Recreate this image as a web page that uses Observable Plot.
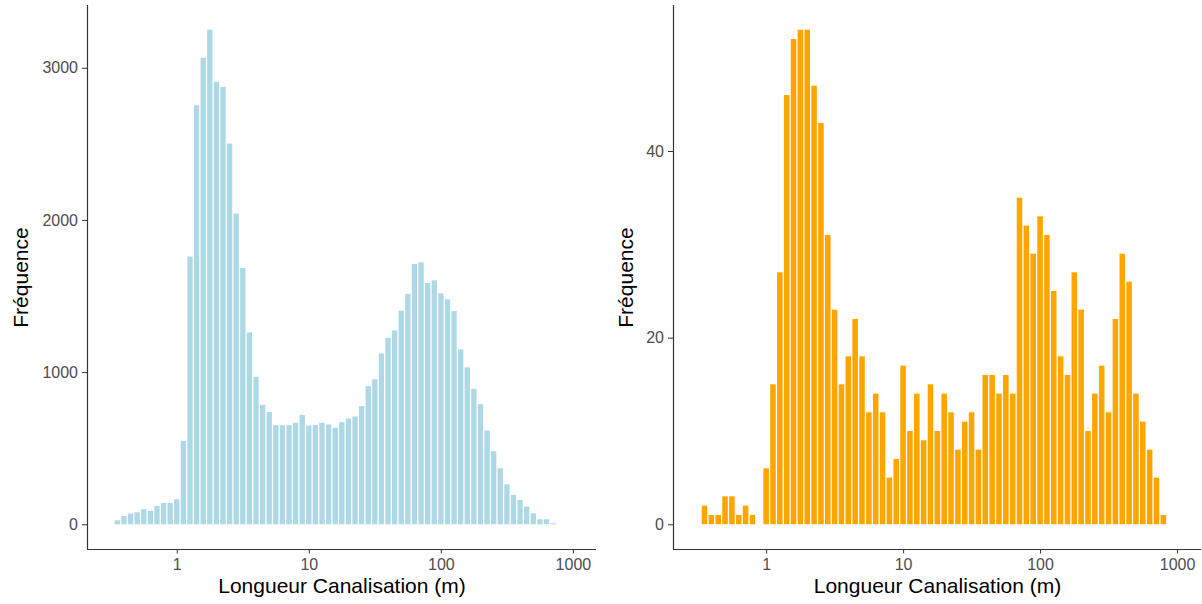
<!DOCTYPE html>
<html><head><meta charset="utf-8">
<script src="https://cdn.jsdelivr.net/npm/d3@7"></script>
<script src="https://cdn.jsdelivr.net/npm/@observablehq/plot@0.6"></script>
<style>
body{margin:0;background:#fff;}
#wrap{display:flex;width:1202px;height:604px;}
</style></head><body><div id="wrap"></div>
<script>
// Histogram bins on log10 scale (bin centres start at -0.45, width 0.05)
const binStartLog = -0.45;
const binWidthLog = 0.05;

// Left panel counts (light blue)
const countsAll = [
  26, 55, 70, 79, 99, 88, 121, 140, 140, 164,
  548, 1759, 2754, 3066, 3250, 2908, 2875, 2502, 2042, 1684,
  1261, 969, 785, 737, 651, 651, 651, 667, 719, 649,
  653, 667, 656, 634, 671, 695, 708, 776, 908, 952,
  1123, 1226, 1274, 1404, 1513, 1711, 1721, 1586, 1603, 1518,
  1478, 1401, 1149, 1031, 890, 789, 616, 480, 368, 263,
  193, 160, 116, 72, 33, 33, 7
];

// Right panel counts (orange)
const countsSub = [
  2, 1, 1, 3, 3, 1, 2, 1, 0, 6,
  15, 27, 46, 52, 53, 53, 47, 43, 31, 23,
  15, 18, 22, 18, 12, 14, 12, 5, 7, 17,
  10, 14, 9, 15, 10, 14, 12, 8, 11, 12,
  8, 16, 16, 14, 16, 14, 35, 32, 29, 33,
  31, 25, 18, 16, 27, 23, 10, 14, 17, 12,
  22, 29, 26, 14, 11, 8, 5, 1
];

const xTicks = [1, 10, 100, 1000];
const yTicksAll = [0, 1000, 2000, 3000];
const yTicksSub = [0, 20, 40];
const xLabel = "Longueur Canalisation (m)";
const yLabel = "Fréquence";
const xDomainLog = [-0.68, 3.175];
const yDomainAll = [-162.5, 3412.5];
const yDomainSub = [-2.65, 55.65];

function bins(counts) {
  return counts.map((n, i) => {
    const c = binStartLog + i * binWidthLog;
    return {x1: 10 ** (c - binWidthLog / 2), x2: 10 ** (c + binWidthLog / 2), n};
  }).filter(d => d.n > 0);
}

function panel({counts, fill, yDomain, yTicks, marginLeft, marginRight, yTitleDx}) {
  const xDomain = xDomainLog.map(v => 10 ** v);
  return Plot.plot({
    width: 601, height: 604,
    marginTop: 5, marginBottom: 55, marginLeft, marginRight,
    style: {fontFamily: "'Liberation Sans', Arial, Helvetica, sans-serif", background: "#fff", overflow: "visible"},
    x: {type: "log", domain: xDomain},
    y: {domain: yDomain},
    marks: [
      Plot.rectY(bins(counts), {x1: "x1", x2: "x2", y1: 0, y2: "n", fill, insetLeft: 0.65, insetRight: 0.65}),
      Plot.ruleX([xDomain[0]], {stroke: "#333", strokeWidth: 1.2}),
      Plot.ruleY([yDomain[0]], {stroke: "#333", strokeWidth: 1.2}),
      Plot.axisX(xTicks, {tickSize: 4.5, tickPadding: 5, fontSize: 16, stroke: "#333", fill: "#4d4d4d", tickFormat: d => String(d), label: null}),
      Plot.axisY(yTicks, {tickSize: 5, tickPadding: 4.5, fontSize: 16, stroke: "#333", fill: "#4d4d4d", tickFormat: d => String(d), label: null}),
      Plot.text([yLabel], {text: d => d, frameAnchor: "left", textAnchor: "middle", lineAnchor: "middle", rotate: -90, dx: yTitleDx, fontSize: 21, fill: "black"}),
      Plot.text([xLabel], {text: d => d, frameAnchor: "bottom", textAnchor: "middle", dy: 43, fontSize: 21, fill: "black"})
    ]
  });
}

const wrap = document.getElementById("wrap");
wrap.appendChild(panel({counts: countsAll, fill: "#add8e6", yDomain: yDomainAll, yTicks: yTicksAll, marginLeft: 87, marginRight: 5, yTitleDx: -66}));
wrap.appendChild(panel({counts: countsSub, fill: "#ffa500", yDomain: yDomainSub, yTicks: yTicksSub, marginLeft: 72, marginRight: 1, yTitleDx: -47}));
</script>
</body></html>
